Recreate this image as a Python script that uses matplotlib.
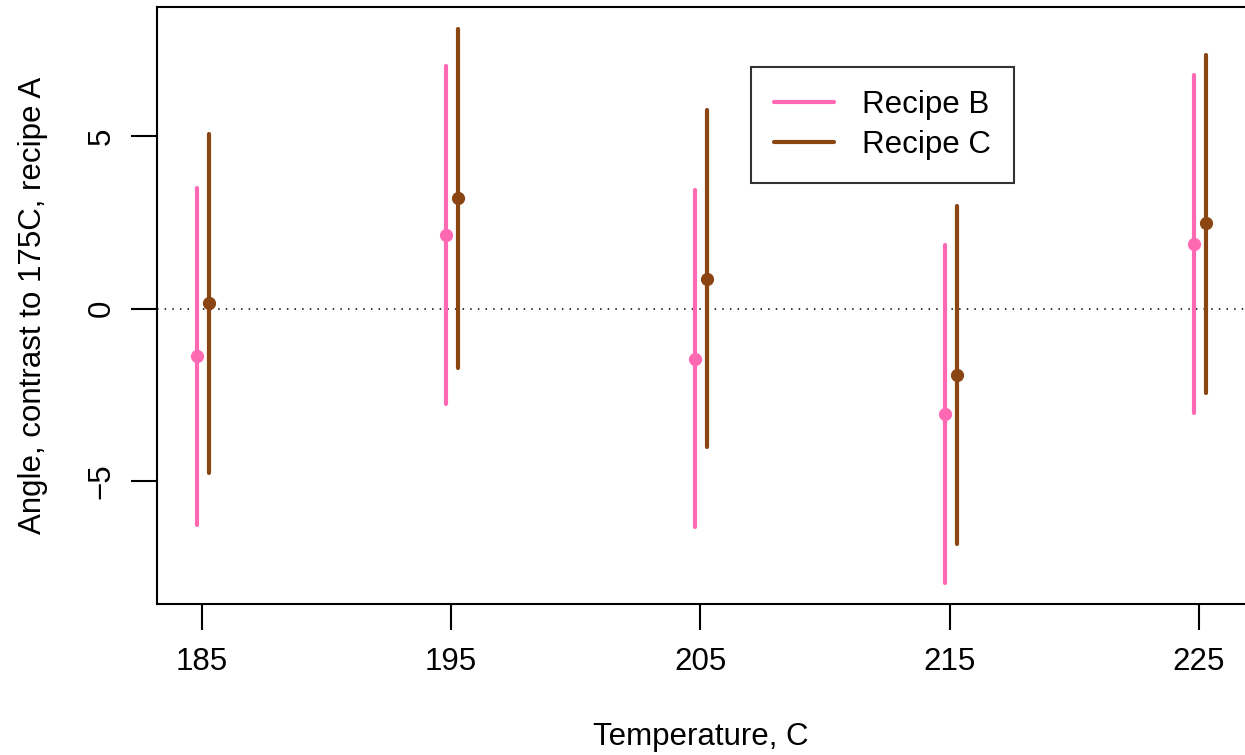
import matplotlib
matplotlib.use("Agg")
import matplotlib.pyplot as plt
import numpy as np

plt.rcParams['font.family'] = ['Liberation Sans', 'DejaVu Sans']

temps = [185, 195, 205, 215, 225]
recipes = ["Recipe B", "Recipe C"]
colors = ["#FF69B4", "#8B4513"]
offsets = [-0.2, 0.28]

est_B = [-1.36, 2.14, -1.45, -3.05, 1.87]
lo_B = [-6.27, -2.75, -6.33, -7.95, -3.03]
hi_B = [3.50, 7.02, 3.44, 1.85, 6.76]

est_C = [0.17, 3.21, 0.87, -1.93, 2.48]
lo_C = [-4.77, -1.71, -4.02, -6.82, -2.44]
hi_C = [5.06, 8.09, 5.75, 2.98, 7.34]

yticks = [-5, 0, 5]

FS = 22.5

fig = plt.figure(figsize=(12.45, 7.55), dpi=100)
ax = fig.add_axes([157/1245, 151/755, 1 - 157/1245, (604-7)/755])

series = [(est_B, lo_B, hi_B), (est_C, lo_C, hi_C)]
for (est, lo, hi), col, off, lab in zip(series, colors, offsets, recipes):
    xs = np.array(temps) + off
    ax.vlines(xs, lo, hi, color=col, lw=3, capstyle='round', label=lab)
    ax.plot(xs, est, 'o', color=col, ms=8.5, zorder=3)

ax.axhline(0, color='black', lw=1.1, ls=(0, (1, 4)), zorder=1)

ax.set_xlim(183.2, 226.85)
ax.set_ylim(-8.55, 8.73)
ax.set_xticks(temps)
ax.set_xticklabels([str(t) for t in temps])
ax.set_yticks(yticks)
ax.set_yticklabels(["\u22125", "0", "5"], rotation=90, va='center')
ax.tick_params(axis='both', length=19, width=1.5, labelsize=FS)
ax.tick_params(axis='x', pad=12)
ax.tick_params(axis='y', pad=10)
ax.spines['right'].set_visible(False)
for s in ['top', 'left', 'bottom']:
    ax.spines[s].set_linewidth(1.5)

ax.set_xlabel("Temperature, C", fontsize=FS, labelpad=32)
ax.set_ylabel("Angle, contrast to 175C, recipe A", fontsize=FS, labelpad=28)

handles = [plt.Line2D([], [], color=c, lw=3, solid_capstyle='round') for c in colors]
leg = ax.legend(handles, recipes, loc='upper left',
                bbox_to_anchor=((751-157)/1088, (604-67)/597),
                fontsize=FS, frameon=True, fancybox=False, edgecolor='black',
                handlelength=1.9, handletextpad=0.9, labelspacing=0.3,
                borderpad=0.75, borderaxespad=0)
leg.get_frame().set_linewidth(1.5)

fig.savefig("out.png", dpi=100)
